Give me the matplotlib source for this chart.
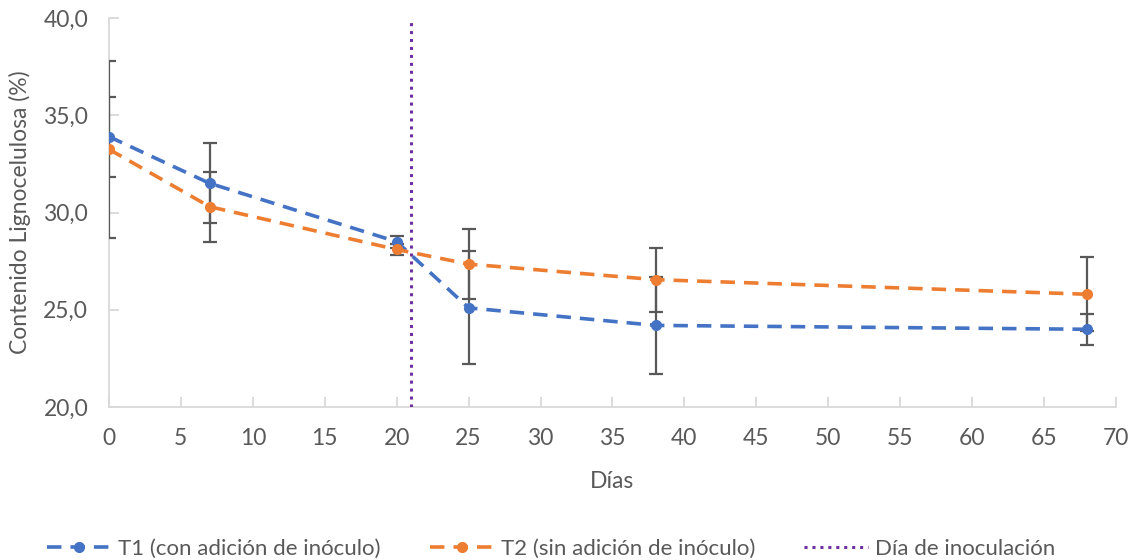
import numpy as np
import matplotlib
matplotlib.use("Agg")
import matplotlib.pyplot as plt
from matplotlib.ticker import FuncFormatter

dias = [0, 7, 20, 25, 38, 68]
t1 = [33.9, 31.5, 28.5, 25.1, 24.2, 24.0]
t1_err = [2.05, 2.05, 0.3, 2.9, 2.5, 0.8]
t2 = [33.25, 30.3, 28.1, 27.35, 26.55, 25.8]
t2_err = [4.55, 1.8, 0.3, 1.8, 1.65, 1.9]
dia_inoculacion = 21

labels = ['T1 (con adición de inóculo)', 'T2 (sin adición de inóculo)', 'Día de inoculación']

plt.rcParams['font.family'] = ['Lato', 'DejaVu Sans']
txt = '#595959'
grid_c = '#D9D9D9'
fs = 16.5

fig = plt.figure(figsize=(11.34, 5.6), dpi=100)
ax = fig.add_axes([0.0961, 0.273, 0.888, 0.695])

l1 = ax.errorbar(dias, t1, yerr=t1_err, color='#4472C4', ls=(0, (4, 2.5)), lw=2.6,
                 marker='o', ms=7, ecolor='#595959', elinewidth=1.6, capsize=5, capthick=1.6, zorder=3)
l2 = ax.errorbar(dias, t2, yerr=t2_err, color='#ED7D31', ls=(0, (4, 2.5)), lw=2.6,
                 marker='o', ms=7, ecolor='#595959', elinewidth=1.6, capsize=5, capthick=1.6, zorder=3)
l3 = ax.axvline(dia_inoculacion, color='#7030A0', ls=(0, (1, 1.6)), lw=2.2, zorder=4)

ax.set_xlim(0, 70)
ax.set_ylim(20, 40)
ax.set_xticks(np.arange(0, 71, 5))
ax.set_yticks(np.arange(20, 41, 5))
ax.yaxis.set_major_formatter(FuncFormatter(lambda v, p: f'{v:.1f}'.replace('.', ',')))

for s in ['top', 'right']:
    ax.spines[s].set_visible(False)
for s in ['left', 'bottom']:
    ax.spines[s].set_color(grid_c)
    ax.spines[s].set_linewidth(1.3)
ax.tick_params(direction='in', length=7, width=1.3, color=grid_c, labelcolor=txt, labelsize=fs, pad=15)
ax.tick_params(axis='y', pad=15)

ax.set_xlabel('Días', fontsize=fs, color=txt, labelpad=16)
ax.set_ylabel('Contenido Lignocelulosa (%)', fontsize=fs, color=txt, labelpad=9)

h1 = plt.Line2D([], [], color='#4472C4', ls=(0, (4, 2.5)), lw=2.6, marker='o', ms=7)
h2 = plt.Line2D([], [], color='#ED7D31', ls=(0, (4, 2.5)), lw=2.6, marker='o', ms=7)
h3 = plt.Line2D([], [], color='#7030A0', ls=(0, (1, 1.6)), lw=2.2)
leg = fig.legend([h1, h2, h3], labels, loc='center', bbox_to_anchor=(0.486, 0.02), ncol=3,
                 frameon=False, fontsize=fs - 0.5, handlelength=2.9, columnspacing=2.2, handletextpad=0.3)
for t in leg.get_texts():
    t.set_color(txt)

fig.savefig('out.png', dpi=100)
